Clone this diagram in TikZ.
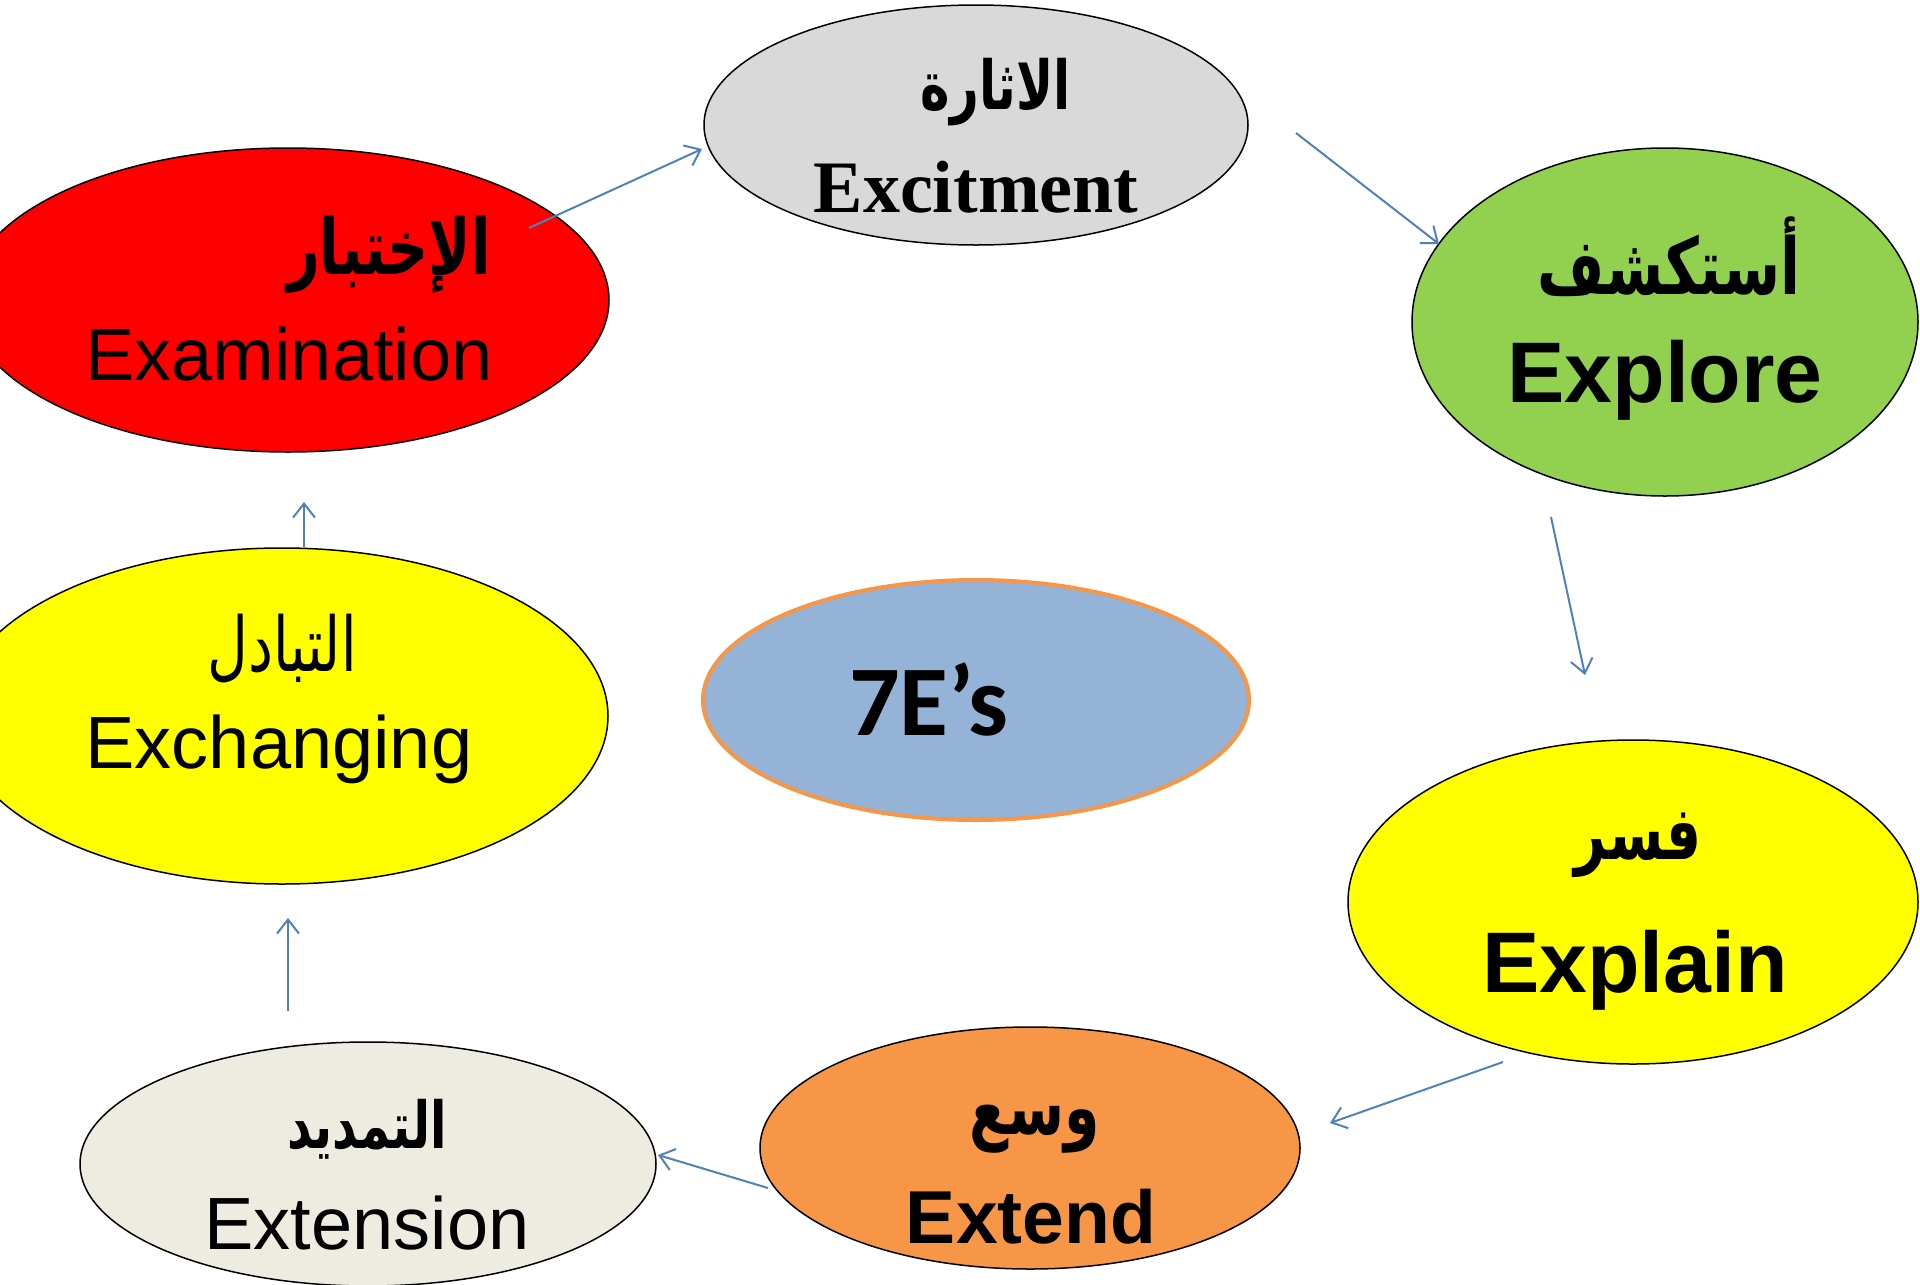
\documentclass[tikz,border=0pt]{standalone}
\usepackage{fontspec}
\setmainfont{Liberation Sans}
\newfontfamily\arabicfont[Script=Arabic]{DejaVu Sans}
\newfontfamily\timesfont{Liberation Serif}
\newfontfamily\calibrifont{Carlito}
\TeXXeTstate=1
\usepackage{tikz}
\usetikzlibrary{shapes, arrows.meta, positioning}

\definecolor{excitegray}{HTML}{D9D9D9}
\definecolor{exploregreen}{HTML}{92D050}
\definecolor{brightyellow}{HTML}{FFFF00}
\definecolor{extendorange}{HTML}{F79646}
\definecolor{extensionbeige}{HTML}{EEECE1}
\definecolor{examred}{HTML}{FF0000}
\definecolor{centerblue}{HTML}{95B3D7}
\definecolor{arrowblue}{HTML}{4F81BD}

% Arabic line, stretched a little in height
\newcommand{\arline}[2]{{\fontsize{#1}{#1}\selectfont\scalebox{1}[1.35]{\beginR #2\endR}}}

\begin{document}
\begin{tikzpicture}[x=1pt, y=-1pt,
        stage/.style={ellipse, draw=black, line width=1.5pt, inner sep=0pt},
        entext/.style={anchor=base, inner sep=0pt, font=\fontsize{74}{80}\selectfont},
        enbold/.style={anchor=base, inner sep=0pt, font=\fontsize{86}{90}\selectfont\bfseries},
        artext/.style={inner sep=0pt, font=\arabicfont},
        arbold/.style={inner sep=0pt, font=\arabicfont\bfseries},
        arrow/.style={-{Straight Barb[length=14pt, width=22pt]}, draw=arrowblue, line width=2pt}]

        \clip (0,0) rectangle (1920,1285);

        % Nodes
        \node [stage, fill=excitegray, minimum width=544, minimum height=240] (excite) at (976,125) {};
        \node [stage, fill=exploregreen, minimum width=506, minimum height=348] (explore) at (1665,322) {};
        \node [stage, fill=brightyellow, minimum width=570, minimum height=324] (explain) at (1633,902) {};
        \node [stage, fill=extendorange, minimum width=540, minimum height=242] (extend) at (1030,1148) {};
        \node [stage, fill=extensionbeige, minimum width=576, minimum height=244] (extension) at (368,1164) {};
        \node [stage, fill=brightyellow, minimum width=652, minimum height=336] (exchange) at (282,716) {};
        \node [stage, fill=examred, minimum width=642, minimum height=304] (exam) at (288,300) {};
        \node [ellipse, draw=extendorange, line width=4pt, fill=centerblue, minimum width=546, minimum height=240] (center) at (976,700) {};

        % Labels
        \node [arbold] (exciteAr) at (996,92) {\arline{50}{الاثارة}};
        \node [entext, font=\fontsize{74}{80}\timesfont\bfseries\selectfont] (exciteEn) at (976,212) {Excitment};
        \node [arbold] (exploreAr) at (1669,257) {\arline{58}{أستكشف}};
        \node [enbold] (exploreEn) at (1665,402) {Explore};
        \node [arbold] (explainAr) at (1638,845) {\arline{55}{فسر}};
        \node [enbold] (explainEn) at (1635,992) {Explain};
        \node [arbold] (extendAr) at (1035,1129) {\arline{57}{وسع}};
        \node [enbold, font=\fontsize{75}{80}\selectfont\bfseries] (extendEn) at (1031,1243) {Extend};
        \node [arbold] (extensionAr) at (367,1129) {\arline{48}{التمديد}};
        \node [entext] (extensionEn) at (367,1249) {Extension};
        \node [artext] (exchangeAr) at (282,649) {\arline{56}{التبادل}};
        \node [entext] (exchangeEn) at (279,768) {Exchanging};
        \node [arbold] (examAr) at (389,255) {\arline{57}{الإختبار}};
        \node [entext] (examEn) at (289,380) {Examination};
        \node [anchor=base, inner sep=0pt, font=\fontsize{100}{100}\calibrifont\bfseries\selectfont] (centerText) at (929,735) {7E’s};

        % Arrow ends
        \coordinate (a1) at (529,228);  \coordinate (b1) at (702,149);
        \coordinate (a2) at (1296,133); \coordinate (b2) at (1439,244);
        \coordinate (a3) at (1551,517); \coordinate (b3) at (1585,675);
        \coordinate (a4) at (1503,1062); \coordinate (b4) at (1330,1123);
        \coordinate (a5) at (768,1188); \coordinate (b5) at (658,1155);
        \coordinate (a6) at (288,1011); \coordinate (b6) at (288,918);
        \coordinate (a7) at (304,547);  \coordinate (b7) at (304,502);

        % Arrows
        \draw [arrow] (a1) -- (b1);
        \draw [arrow] (a2) -- (b2);
        \draw [arrow] (a3) -- (b3);
        \draw [arrow] (a4) -- (b4);
        \draw [arrow] (a5) -- (b5);
        \draw [arrow] (a6) -- (b6);
        \draw [arrow] (a7) -- (b7);
\end{tikzpicture}
\end{document}
